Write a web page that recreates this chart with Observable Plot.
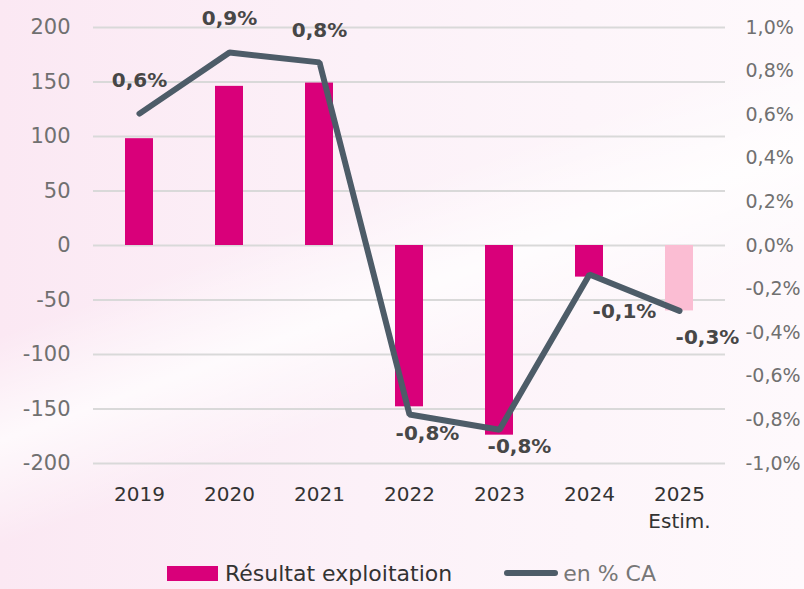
<!DOCTYPE html>
<html><head><meta charset="utf-8">
<script src="https://cdn.jsdelivr.net/npm/d3@7"></script>
<script src="https://cdn.jsdelivr.net/npm/@observablehq/plot@0.6"></script>
<style>
html,body{margin:0;padding:0;}
body{width:804px;height:589px;overflow:hidden;font-family:"DejaVu Sans",sans-serif;
background:
 linear-gradient(160deg, rgba(255,255,255,0) 38%, rgba(255,255,255,0.75) 50%, rgba(255,255,255,0) 62%),
 linear-gradient(90deg,#fbe8f3 0%,#fcf1f8 45%,#fef9fc 100%);}
#legend{display:flex;align-items:center;height:34px;padding-left:167px;font-size:22px;}
.sw1{width:51px;height:15px;background:#d9007a;margin-right:7px;}
.sw2{width:54px;height:6px;border-radius:3px;background:#4d5c68;margin-left:52px;margin-right:5px;}
</style></head><body>
<div id="chart"></div>
<div id="legend"><div class="sw1"></div><span style="color:#333">Résultat exploitation</span><div class="sw2"></div><span style="color:#777">en % CA</span></div>
<script>
const years = ["2019","2020","2021","2022","2023","2024","2025"];
const resultat = [98, 146, 149, -148, -174, -29, -60];
const pctCA = [0.605, 0.885, 0.84, -0.775, -0.845, -0.133, -0.30];
const estimated = [false,false,false,false,false,false,true];
const leftTicks = [-200,-150,-100,-50,0,50,100,150,200];
const rightTicks = [-1.0,-0.8,-0.6,-0.4,-0.2,0,0.2,0.4,0.6,0.8,1.0];
const labelOffsets = [[0,-33],[0,-34],[0,-32],[18,19],[20,17],[35,37],[28,27]];

const k = 200; // 1% on right axis == 200 on left axis
const fmtPct = v => v.toFixed(1).replace(".", ",").replace("-0,0","0,0") + "%";
const data = years.map((y,i)=>({year:y, v:resultat[i], p:pctCA[i], est:estimated[i], dx:labelOffsets[i][0], dy:labelOffsets[i][1]}));

const H = 556;
const plot = Plot.plot({
  width: 804, height: H,
  marginLeft: 93, marginRight: 79, marginTop: 27, marginBottom: H-463,
  style: {background: "transparent", fontFamily: "'DejaVu Sans', sans-serif"},
  x: {type: "band", domain: years, paddingInner: 0.69, paddingOuter: 0.345, label: null},
  y: {domain: [-200, 200], label: null},
  marks: [
    Plot.ruleY(leftTicks, {stroke: "#d9d9d9", strokeWidth: 2}),
    Plot.barY(data, {x: "year", y: "v", fill: d => d.est ? "#fbbdd3" : "#d9007a"}),
    Plot.line(data, {x: "year", y: d => d.p * k, stroke: "#4d5c68", strokeWidth: 6, strokeLinecap: "round", strokeLinejoin: "miter"}),
    ...data.map(d => Plot.text([d], {x: "year", y: e => e.p * k, text: e => fmtPct(e.p), dx: d.dx, dy: d.dy,
      fontSize: 20, fontWeight: 600, fill: "#474747"})),
    Plot.axisY({ticks: leftTicks, anchor: "left", tickSize: 0, tickPadding: 23, fontSize: 21, color: "#707070",
      tickFormat: d => String(d), label: null}),
    Plot.axisY({ticks: rightTicks.map(t => t * k), anchor: "right", tickSize: 0, tickPadding: 20, fontSize: 19, color: "#707070",
      tickFormat: t => fmtPct(t / k), label: null}),
    Plot.axisX({tickSize: 0, tickPadding: 18, fontSize: 20, color: "#333", lineHeight: 1.35,
      tickFormat: (y) => estimated[years.indexOf(y)] ? y + "\nEstim." : y, label: null})
  ]
});
document.getElementById("chart").appendChild(plot);
</script>
</body></html>
